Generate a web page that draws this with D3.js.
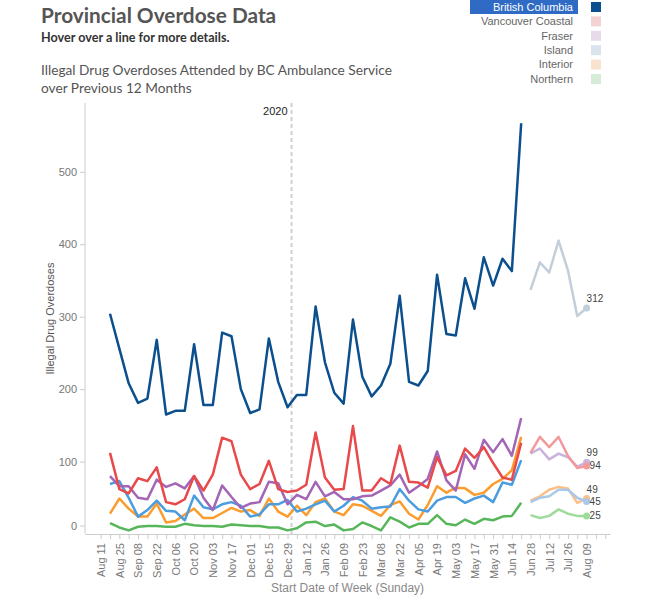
<!DOCTYPE html>
<html>
<head>
<meta charset="utf-8">
<script src="https://cdn.jsdelivr.net/npm/d3@7/dist/d3.min.js"></script>
<style>
    body { margin: 0; background: #fff; }
    text { font-family: "Liberation Sans", Arial, sans-serif; }
</style>
</head>
<body>
<div id="chart"></div>
<script>
// weekly counts, Aug 18 2019 - Jun 21 2020 (45 weeks), then the last 7 weeks shown faded
var regions = ["British Columbia", "Vancouver Coastal", "Fraser", "Island", "Interior", "Northern"];
var firstWeek = "2019-08-18";
var lastWeek = "2020-08-09";
var yTicks = [0, 100, 200, 300, 400, 500];

var bcValues = [304, 256, 208, 181, 187, 268, 165, 170, 170, 262, 178, 178, 278, 273, 200, 167, 172, 270, 210, 175, 192, 192, 314, 237, 195, 180, 296, 217, 190, 205, 235, 329, 210, 205, 225, 358, 276, 274, 353, 311, 382, 343, 380, 363, 567];
var vcValues = [112, 62, 56, 77, 73, 92, 44, 41, 48, 80, 60, 82, 133, 128, 82, 62, 69, 101, 62, 58, 60, 68, 140, 78, 61, 62, 149, 60, 60, 77, 69, 122, 72, 71, 64, 106, 81, 87, 118, 105, 120, 98, 78, 75, 126];
var fraserValues = [80, 66, 66, 50, 48, 75, 65, 70, 63, 80, 50, 33, 67, 51, 36, 42, 44, 72, 70, 41, 54, 48, 72, 52, 58, 48, 48, 52, 53, 60, 67, 82, 57, 66, 76, 114, 74, 60, 110, 90, 130, 113, 131, 108, 160];
var islandValues = [69, 73, 50, 24, 33, 46, 32, 31, 19, 53, 37, 34, 41, 44, 39, 24, 27, 41, 41, 47, 31, 35, 41, 46, 31, 39, 51, 46, 35, 37, 38, 62, 46, 34, 31, 46, 51, 51, 43, 49, 53, 44, 71, 68, 102];
var interiorValues = [28, 49, 35, 24, 24, 42, 16, 18, 27, 35, 22, 22, 29, 36, 31, 33, 25, 49, 31, 24, 39, 26, 44, 49, 31, 26, 41, 39, 32, 25, 40, 45, 28, 20, 40, 66, 57, 64, 63, 54, 57, 69, 76, 88, 134];
var northernValues = [15, 9, 5, 10, 11, 11, 10, 10, 14, 12, 11, 11, 10, 13, 12, 11, 11, 9, 9, 5, 8, 16, 17, 11, 13, 5, 7, 16, 11, 5, 23, 17, 9, 14, 14, 26, 14, 12, 20, 14, 21, 19, 24, 25, 43];

var bcRecent = [337, 375, 361, 405, 364, 301, 312];
var vcRecent = [112, 134, 120, 134, 108, 91, 94];
var fraserRecent = [111, 118, 103, 111, 106, 93, 99];
var islandRecent = [44, 50, 52, 61, 61, 50, 45];
var interiorRecent = [46, 52, 61, 65, 63, 43, 49];
var northernRecent = [26, 22, 25, 34, 28, 25, 25];

var series = [
    {name: regions[0], values: bcValues, recent: bcRecent, color: "#0b4f8d", faded: "#c3cedb", swatch: "#0b4f8d", label: "above"},
    {name: regions[1], values: vcValues, recent: vcRecent, color: "#e8494b", faded: "#f29a9b", swatch: "#f3d2d3", label: "right"},
    {name: regions[2], values: fraserValues, recent: fraserRecent, color: "#a365b5", faded: "#c9b3dd", swatch: "#e7dbeb", label: "above"},
    {name: regions[3], values: islandValues, recent: islandRecent, color: "#4c9ddf", faded: "#a9c8ea", swatch: "#d9e4ef", label: "right"},
    {name: regions[4], values: interiorValues, recent: interiorRecent, color: "#fb9c2e", faded: "#fdbf86", swatch: "#f8e3cf", label: "above"},
    {name: regions[5], values: northernValues, recent: northernRecent, color: "#58b65a", faded: "#9fdb9a", swatch: "#d6ecd8", label: "right"}
];

var plot = {left: 85, right: 610, top: 103, bottom: 534};

var weeks = d3.utcSunday.range(new Date(firstWeek), d3.utcDay.offset(new Date(lastWeek), 1));
var nMain = bcValues.length;

var x = d3.scaleUtc()
        .domain([weeks[0], weeks[weeks.length - 1]])
        .range([110, 586.6]);
x.domain([x.invert(plot.left), x.invert(plot.right)]).range([plot.left, plot.right]);

var y = d3.scaleLinear()
        .domain([0, 595])
        .range([plot.bottom, plot.top]);

var svg = d3.select("#chart")
        .append("svg")
        .attr("width", 653)
        .attr("height", 605);

// titles
svg.append("text")
        .attr("x", 41).attr("y", 22.5)
        .style("font-family", "Lato, sans-serif")
        .style("font-weight", "bold")
        .style("font-size", "20.8px")
        .attr("fill", "#555")
        .text("Provincial Overdose Data");
svg.append("text")
        .attr("x", 41).attr("y", 41.5)
        .style("font-family", "Lato, sans-serif")
        .style("font-weight", "bold")
        .style("font-size", "12.6px")
        .attr("fill", "#333")
        .text("Hover over a line for more details.");
svg.append("text")
        .attr("x", 41).attr("y", 75)
        .style("font-family", "Lato, sans-serif")
        .style("font-size", "13.7px")
        .attr("fill", "#555")
        .text("Illegal Drug Overdoses Attended by BC Ambulance Service");
svg.append("text")
        .attr("x", 41).attr("y", 93)
        .style("font-family", "Lato, sans-serif")
        .style("font-size", "13.7px")
        .attr("fill", "#555")
        .text("over Previous 12 Months");

// legend
var legend = svg.append("g");
var row = legend.selectAll(".row")
        .data(series)
        .enter().append("g")
        .attr("class", "row")
        .attr("transform", function (d, i) {
            return "translate(0," + (7 + i * 14.4) + ")";
        });
row.filter(function (d, i) { return i === 0; })
        .append("rect")
        .attr("x", 470).attr("y", -7)
        .attr("width", 108).attr("height", 14)
        .attr("fill", "#2f6bc5");
row.append("text")
        .attr("x", 573)
        .attr("dy", "0.35em")
        .style("text-anchor", "end")
        .style("font-size", "11px")
        .attr("fill", function (d, i) { return i === 0 ? "#fff" : "#666"; })
        .text(function (d) { return d.name; });
row.append("rect")
        .attr("x", 591).attr("y", -5)
        .attr("width", 10).attr("height", 10)
        .attr("fill", function (d) { return d.swatch; });

// axes
var tickWeeks = d3.utcSunday.range(new Date("2019-08-11"), new Date("2020-08-24"));
var fmt = d3.utcFormat("%b %d");

var xAxis = svg.append("g")
        .attr("transform", "translate(0," + plot.bottom + ")")
        .call(d3.axisBottom(x)
                .tickValues(tickWeeks)
                .tickSize(5)
                .tickSizeOuter(0)
                .tickFormat(function (d, i) {
                    return (i % 2 === 0 && i <= 52) ? fmt(d) : "";
                }));
xAxis.select(".domain").attr("stroke", "#ccc");
xAxis.selectAll(".tick line").attr("stroke", "#ccc");
xAxis.selectAll(".tick text")
        .attr("transform", "rotate(-90)")
        .attr("x", -9)
        .attr("y", 0)
        .attr("dy", "0.35em")
        .style("text-anchor", "end")
        .style("font-size", "11px")
        .attr("fill", "#777");

var yAxis = svg.append("g")
        .attr("transform", "translate(" + plot.left + ",0)")
        .call(d3.axisLeft(y)
                .tickValues(yTicks)
                .tickSize(5)
                .tickSizeOuter(0)
                .tickPadding(3));
yAxis.select(".domain").attr("d", "M0," + plot.top + "V" + plot.bottom).attr("stroke", "#ccc");
yAxis.selectAll(".tick line").attr("stroke", "#ccc");
yAxis.selectAll(".tick text")
        .style("font-size", "11px")
        .attr("fill", "#777");
yAxis.selectAll(".tick")
        .filter(function (d) { return d === 0; })
        .attr("transform", "translate(0," + (y(0) - 8) + ")");

svg.append("text")
        .attr("transform", "translate(" + (plot.left + plot.right) / 2 + ",592)")
        .style("text-anchor", "middle")
        .style("font-size", "12px")
        .attr("fill", "#888")
        .text("Start Date of Week (Sunday)");
svg.append("text")
        .attr("transform", "translate(54," + (plot.top + plot.bottom) / 2 + ") rotate(-90)")
        .style("text-anchor", "middle")
        .style("font-size", "11px")
        .attr("fill", "#555")
        .text("Illegal Drug Overdoses");

// 2020 reference line
var x2020 = x(new Date("2020-01-01"));
svg.append("line")
        .attr("x1", x2020).attr("x2", x2020)
        .attr("y1", plot.top).attr("y2", plot.bottom)
        .attr("stroke", "#cfcfcf")
        .attr("stroke-width", 2)
        .attr("stroke-dasharray", "4,3");
svg.append("text")
        .attr("x", x2020 - 4).attr("y", 115)
        .style("text-anchor", "end")
        .style("font-size", "11px")
        .attr("fill", "#222")
        .text("2020");

// lines
var line = d3.line()
        .x(function (d) { return x(d.date); })
        .y(function (d) { return y(d.value); });

var drawOrder = series.slice().reverse();

drawOrder.forEach(function (s) {
    var main = s.values.map(function (v, i) { return {date: weeks[i], value: v}; });
    var recent = s.recent.map(function (v, i) { return {date: weeks[nMain + i], value: v}; });

    svg.append("path")
            .datum(recent)
            .attr("fill", "none")
            .attr("stroke", s.faded)
            .attr("stroke-width", 2.5)
            .attr("stroke-linejoin", "round")
            .attr("d", line);
    svg.append("path")
            .datum(main)
            .attr("fill", "none")
            .attr("stroke", s.color)
            .attr("stroke-width", 2.5)
            .attr("stroke-linejoin", "round")
            .attr("d", line);

    var last = recent[recent.length - 1];
    svg.append("circle")
            .attr("cx", x(last.date))
            .attr("cy", y(last.value))
            .attr("r", 3.5)
            .attr("fill", s.faded);
    var lbl = svg.append("text")
            .style("font-size", "10px")
            .attr("fill", "#444")
            .text(last.value);
    if (s.label === "above") {
        lbl.attr("x", x(last.date)).attr("y", y(last.value) - 6);
    } else {
        lbl.attr("x", x(last.date) + 3).attr("y", y(last.value)).attr("dy", "0.35em");
    }
});
</script>
</body>
</html>
